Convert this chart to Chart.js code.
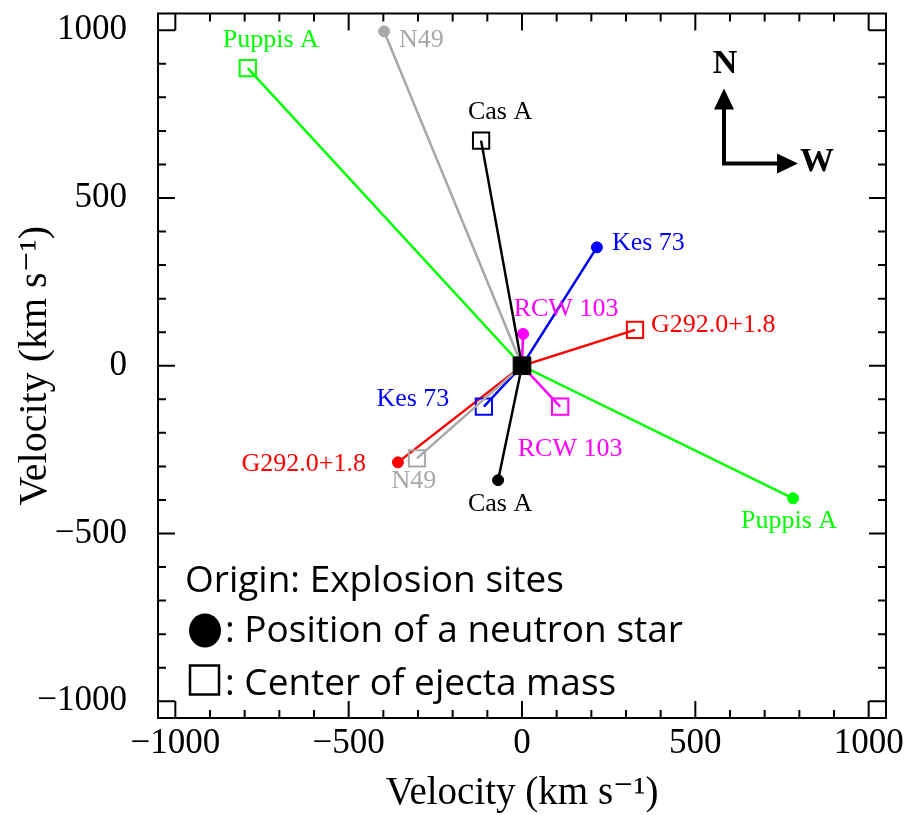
<!DOCTYPE html>
<html>
<head>
<meta charset="utf-8">
<script src="https://cdn.jsdelivr.net/npm/chart.js@4.4.1/dist/chart.umd.min.js"></script>
<style>
html, body { margin: 0; padding: 0; background: #fff; }
#wrap { width: 906px; height: 815px; }
</style>
</head>
<body>
<div id="wrap"><canvas id="myChart" width="906" height="815"></canvas></div>
<script>
//Remanentes, el mismo orden en todas las listas
const remanentes = ['Puppis A', 'N49', 'Cas A', 'Kes 73', 'RCW 103', 'G292.0+1.8'];
//Posicion de la estrella de neutrones (km/s)
const nsX = [782, -398, -69, 216, 3, -358];
const nsY = [-395, 997, -341, 353, 95, -288];
//Centro de masa del material eyectado (km/s)
const ejX = [-791, -303, -118, -110, 110, 326];
const ejY = [887, -276, 671, -122, -122, 107];
//Sitio de la explosion
const origenX = [0];
const origenY = [0];
//Marcas de los ejes
const ticksMayores = [-1000, -500, 0, 500, 1000];
const ticksMenores = [-1000, -900, -800, -700, -600, -500, -400, -300, -200, -100, 0, 100, 200, 300, 400, 500, 600, 700, 800, 900, 1000];
const ejeMin = -1050;
const ejeMax = 1050;

const colores = ['#00ff00', '#a8a8a8', '#000000', '#0000ff', '#ff00ff', '#ff0000'];
//Desplazamiento de las etiquetas en px: [dx, dy, alineacion]
const etiquetaEj = [[23, -28, 'center'], [-3, 23, 'center'], [19, -28, 'center'], [-71, -8, 'center'], [10, 42, 'center'], [16, -5, 'left']];
const etiquetaNs = [[-4, 23, 'center'], [15, 9, 'left'], [2, 24, 'center'], [15, -4, 'left'], [43, -25, 'center'], [-32, 2, 'right']];

const serif = "'Liberation Serif', 'DejaVu Serif', serif";

function formato(v) {
    return v < 0 ? '\u2212' + Math.abs(v) : '' + v;
}

//Un dataset por remanente: eyecta -> origen -> estrella de neutrones
var datasets = [{
    label: 'Origen',
    data: origenX.map((x, i) => ({x: x, y: origenY[i]})),
    pointStyle: 'rect',
    pointRadius: 12.5,
    backgroundColor: '#000',
    borderColor: '#000',
    borderWidth: 1,
    showLine: false,
    order: 0
}];
remanentes.forEach((nombre, i) => {
    datasets.push({
        label: nombre,
        data: [{x: ejX[i], y: ejY[i]}, {x: origenX[0], y: origenY[0]}, {x: nsX[i], y: nsY[i]}],
        showLine: true,
        borderColor: colores[i],
        borderWidth: 2.5,
        tension: 0,
        pointStyle: ['rect', 'circle', 'circle'],
        pointRadius: [11.5, 0, 5.5],
        pointBorderWidth: [2, 0, 1],
        pointBackgroundColor: ['rgba(0,0,0,0)', colores[i], colores[i]],
        pointBorderColor: colores[i],
        order: 1
    });
});

//Marco, marcas hacia adentro, etiquetas, brujula y leyenda
const decoracion = {
    id: 'decoracion',
    afterDraw(chart) {
        const ctx = chart.ctx;
        const a = chart.chartArea;
        const sx = chart.scales.x;
        const sy = chart.scales.y;
        ctx.save();
        ctx.strokeStyle = '#000';
        ctx.lineWidth = 2;
        ctx.strokeRect(a.left, a.top, a.right - a.left, a.bottom - a.top);
        ctx.beginPath();
        ticksMenores.forEach(v => {
            const largo = ticksMayores.includes(v) ? 17 : 8;
            const px = sx.getPixelForValue(v);
            ctx.moveTo(px, a.bottom); ctx.lineTo(px, a.bottom - largo);
            ctx.moveTo(px, a.top); ctx.lineTo(px, a.top + largo);
            const py = sy.getPixelForValue(v);
            ctx.moveTo(a.left, py); ctx.lineTo(a.left + largo, py);
            ctx.moveTo(a.right, py); ctx.lineTo(a.right - largo, py);
        });
        ctx.stroke();

        //Nombres de los remanentes
        ctx.font = '26px ' + serif;
        ctx.textBaseline = 'middle';
        remanentes.forEach((nombre, i) => {
            ctx.fillStyle = colores[i];
            var e = etiquetaEj[i];
            ctx.textAlign = e[2];
            ctx.fillText(nombre, sx.getPixelForValue(ejX[i]) + e[0], sy.getPixelForValue(ejY[i]) + e[1]);
            var n = etiquetaNs[i];
            ctx.textAlign = n[2];
            ctx.fillText(nombre, sx.getPixelForValue(nsX[i]) + n[0], sy.getPixelForValue(nsY[i]) + n[1]);
        });

        //Brujula
        const cx = a.left + 566, cy = a.top + 150;
        ctx.fillStyle = '#000';
        ctx.lineWidth = 4;
        ctx.beginPath();
        ctx.moveTo(cx, cy - 60); ctx.lineTo(cx, cy); ctx.lineTo(cx + 58, cy);
        ctx.stroke();
        ctx.beginPath();
        ctx.moveTo(cx, cy - 75); ctx.lineTo(cx - 10, cy - 54); ctx.lineTo(cx + 10, cy - 54); ctx.closePath();
        ctx.fill();
        ctx.beginPath();
        ctx.moveTo(cx + 74, cy); ctx.lineTo(cx + 53, cy - 10); ctx.lineTo(cx + 53, cy + 10); ctx.closePath();
        ctx.fill();
        ctx.font = 'bold 34px ' + serif;
        ctx.textAlign = 'center';
        ctx.fillText('N', cx + 1, cy - 99);
        ctx.fillText('W', cx + 93, cy - 1);

        //Leyenda
        const lx = a.left + 27;
        ctx.font = "37px 'Open Sans', 'Noto Sans', sans-serif";
        ctx.textAlign = 'left';
        ctx.textBaseline = 'alphabetic';
        ctx.fillText('Origin: Explosion sites', lx, a.top + 578);
        ctx.beginPath();
        ctx.ellipse(lx + 20, a.top + 617, 16, 17, 0, 0, Math.PI * 2);
        ctx.fill();
        ctx.fillText(': Position of a neutron star', lx + 40, a.top + 628);
        ctx.lineWidth = 2.5;
        ctx.strokeRect(lx + 5, a.top + 652, 29, 29);
        ctx.fillText(': Center of ejecta mass', lx + 40, a.top + 681);
        ctx.restore();
    }
};

var myChart = new Chart(document.getElementById('myChart'), {
    type: 'scatter',
    data: { datasets: datasets },
    options: {
        responsive: false,
        animation: false,
        layout: { padding: { top: 10, right: 20, left: 0, bottom: 0 } },
        plugins: { legend: { display: false }, tooltip: { enabled: false } },
        scales: {
            x: {
                type: 'linear',
                min: ejeMin,
                max: ejeMax,
                afterBuildTicks: s => { s.ticks = ticksMayores.map(v => ({value: v})); },
                afterFit: s => { s.height = 97; s.paddingLeft = 0; s.paddingRight = 0; },
                grid: { display: false, drawTicks: false },
                border: { display: false },
                ticks: { padding: 5, autoSkip: false, maxRotation: 0, color: '#000', font: { family: serif, size: 35 }, callback: formato },
                title: { display: true, text: 'Velocity (km s\u207B\u00B9)', color: '#000', font: { family: serif, size: 39 }, padding: { top: 0, bottom: -2 } }
            },
            y: {
                type: 'linear',
                min: ejeMin,
                max: ejeMax,
                afterBuildTicks: s => { s.ticks = ticksMayores.map(v => ({value: v})); },
                afterFit: s => { s.width = 158; s.paddingTop = 0; s.paddingBottom = 0; },
                grid: { display: false, drawTicks: false },
                border: { display: false },
                ticks: { padding: 31, autoSkip: false, color: '#000', font: { family: serif, size: 35 }, callback: formato },
                title: { display: true, text: 'Velocity (km s\u207B\u00B9)', color: '#000', font: { family: serif, size: 40 }, padding: { top: 11, bottom: 0 } }
            }
        }
    },
    plugins: [decoracion]
});
</script>
</body>
</html>
